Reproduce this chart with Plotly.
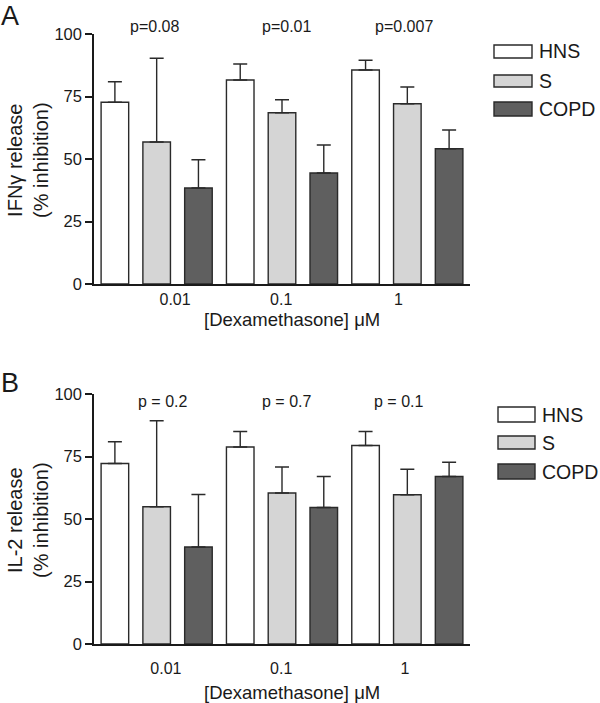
import plotly.graph_objects as go

doses = ["0.01", "0.1", "1"]
groups = ["HNS", "S", "COPD"]

# Panel A: IFN-gamma release (% inhibition), mean and upper SEM
ifn_mean = {"HNS": [72.7, 81.6, 85.6], "S": [56.8, 68.5, 72.1], "COPD": [38.4, 44.4, 54.1]}
ifn_err = {"HNS": [8.2, 6.4, 3.9], "S": [33.5, 5.2, 6.7], "COPD": [11.3, 11.2, 7.5]}
ifn_p = ["p=0.08", "p=0.01", "p=0.007"]

# Panel B: IL-2 release (% inhibition)
il2_mean = {"HNS": [72.2, 78.8, 79.4], "S": [54.9, 60.4, 59.7], "COPD": [38.8, 54.6, 67.0]}
il2_err = {"HNS": [8.7, 6.2, 5.6], "S": [34.4, 10.4, 10.2], "COPD": [21.0, 12.4, 5.7]}
il2_p = ["p = 0.2", "p = 0.7", "p = 0.1"]

y_ticks = [0, 25, 50, 75, 100]

colors = {"HNS": "#ffffff", "S": "#d5d5d5", "COPD": "#5f5f5f"}
FONT = "Liberation Sans, Arial, Helvetica, sans-serif"
INK = "#1a1a1a"

W, H = 600, 703
L, R, T, B = 94, 130, 34, 59
PW, PH = W - L - R, H - T - B


def px(xp):
    return (xp - L) / PW


def py(yp):
    return (H - B - yp) / PH


fig = go.Figure()

panels = [
    (ifn_mean, ifn_err, "x", "y"),
    (il2_mean, il2_err, "x2", "y2"),
]
for mean, err, xa, ya in panels:
    for gi, g in enumerate(groups):
        xs = [di * 3 + gi for di in range(len(doses))]
        fig.add_trace(go.Bar(
            x=xs, y=mean[g], width=0.66, xaxis=xa, yaxis=ya,
            marker=dict(color=colors[g], line=dict(color="#2a2a2a", width=1.4)),
            error_y=dict(type="data", symmetric=False, array=err[g],
                         arrayminus=[0] * len(doses), color="#2a2a2a",
                         thickness=1.4, width=7),
            showlegend=False, name=g,
        ))

top_dom = [360 / PH, 1.0]
bot_dom = [0.0, 250 / PH]

xcommon = dict(range=[-0.5, 8.5], showline=True, linecolor=INK, linewidth=1.5,
               ticks="", showgrid=False, zeroline=False,
               tickfont=dict(family=FONT, size=16, color=INK))
ycommon = dict(range=[0, 100], tickvals=y_ticks, showline=True, linecolor=INK,
               linewidth=1.5, ticks="outside", ticklen=7, tickwidth=1.5,
               tickcolor=INK, showgrid=False, zeroline=False,
               tickfont=dict(family=FONT, size=16.5, color=INK))

fig.update_layout(
    width=W, height=H,
    margin=dict(l=L, r=R, t=T, b=B),
    plot_bgcolor="white", paper_bgcolor="white",
    barmode="overlay",
    font=dict(family=FONT, color=INK),
    xaxis=dict(**xcommon, domain=[0, 1], anchor="y",
               tickvals=[1.44, 3.98, 6.79], ticktext=doses, ticklabelstandoff=0),
    yaxis=dict(**ycommon, domain=top_dom, anchor="x"),
    xaxis2=dict(**xcommon, domain=[0, 1], anchor="y2",
                tickvals=[1.22, 3.98, 6.94], ticktext=doses, ticklabelstandoff=9),
    yaxis2=dict(**ycommon, domain=bot_dom, anchor="x2"),
)

ann = []


def add_text(text, x, y, size, xref="paper", yref="paper", xanchor="center", angle=0):
    ann.append(dict(text=text, x=x, y=y, xref=xref, yref=yref, showarrow=False,
                    xanchor=xanchor, yanchor="middle", textangle=angle,
                    font=dict(size=size, family=FONT, color=INK)))


# panel letters
add_text("A", px(10), py(16), 27)
add_text("B", px(10), py(383), 27)
# y titles
add_text("IFNγ release<br>(% inhibition)", px(28), py(160), 20, angle=-90)
add_text("IL-2 release<br>(% inhibition)", px(28), py(520), 20, angle=-90)
# x titles
for yc in (319, 692):
    add_text("[Dexamethasone] μM", px(291.5), py(yc), 18.5)
# p values
for xv, t in zip([0.94, 4.1, 6.92], ifn_p):
    add_text(t, xv, py(27), 16, xref="x")
for xv, t in zip([1.14, 4.1, 6.8], il2_p):
    add_text(t, xv, py(401), 16, xref="x2")

# legends (manual boxes)
shapes = []
legend_specs = [
    (494, 532, [(45, 58), (75, 87), (102, 116)], 537),
    (498, 535, [(407, 422), (436, 449), (464, 479)], 540),
]
for x0, x1, rows, tx in legend_specs:
    for g, (y0, y1) in zip(groups, rows):
        shapes.append(dict(type="rect", xref="paper", yref="paper",
                           x0=px(x0), x1=px(x1), y0=py(y1), y1=py(y0),
                           fillcolor=colors[g], line=dict(color="#2a2a2a", width=1.4)))
        add_text(g, px(tx), py((y0 + y1) / 2), 19.5, xanchor="left")

fig.update_layout(annotations=ann, shapes=shapes)
fig.write_html("out.html", config={"displayModeBar": False},
               post_script="document.body.style.margin='0';document.body.style.overflow='hidden';")
